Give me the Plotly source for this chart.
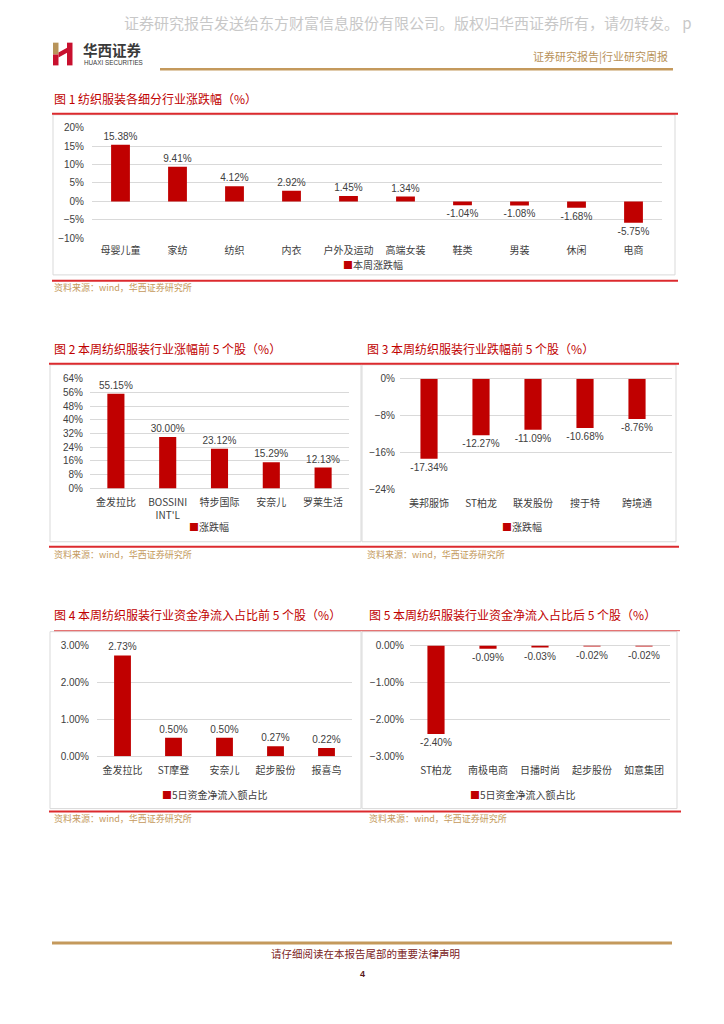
import plotly.graph_objects as go

W, H = 724, 1024
OFF = 8  # page body margin offset compensation
RED = "#c00000"
LINE_RED = "#dc2a2e"
GOLD = "#c4995c"
GRID = "#d9d9d9"
TXT = "#404040"
CJK = "Noto Sans CJK SC"
NUM = "Liberation Sans, Noto Sans CJK SC"

# ---------------- data ----------------
cat1 = ["母婴儿童", "家纺", "纺织", "内衣", "户外及运动", "高端女装", "鞋类", "男装", "休闲", "电商"]
val1 = [15.38, 9.41, 4.12, 2.92, 1.45, 1.34, -1.04, -1.08, -1.68, -5.75]
cat2 = ["金发拉比", "BOSSINI<br>INT'L", "特步国际", "安奈儿", "罗莱生活"]
val2 = [55.15, 30.00, 23.12, 15.29, 12.13]
cat3 = ["美邦服饰", "ST柏龙", "联发股份", "搜于特", "跨境通"]
val3 = [-17.34, -12.27, -11.09, -10.68, -8.76]
cat4 = ["金发拉比", "ST摩登", "安奈儿", "起步股份", "报喜鸟"]
val4 = [2.73, 0.50, 0.50, 0.27, 0.22]
cat5 = ["ST柏龙", "南极电商", "日播时尚", "起步股份", "如意集团"]
val5 = [-2.40, -0.09, -0.03, -0.02, -0.02]

titles = ["图 1 纺织服装各细分行业涨跌幅（%）",
          "图 2 本周纺织服装行业涨幅前 5 个股（%）",
          "图 3 本周纺织服装行业跌幅前 5 个股（%）",
          "图 4 本周纺织服装行业资金净流入占比前 5 个股（%）",
          "图 5 本周纺织服装行业资金净流入占比后 5 个股（%）"]
legend_names = ["本周涨跌幅", "涨跌幅", "涨跌幅", "5日资金净流入额占比", "5日资金净流入额占比"]
source = "资料来源：wind，华西证券研究所"
watermark = "证券研究报告发送给东方财富信息股份有限公司。版权归华西证券所有，请勿转发。 p"
header_right = "证券研究报告|行业研究周报"
footer_text = "请仔细阅读在本报告尾部的重要法律声明"
page_no = "4"


def X(px):
    return (px - OFF) / W


def Y(py):
    return 1 - (py - OFF) / H


charts = [
    dict(c=cat1, v=val1, x=(92, 662), y=(123, 235), r=[-10, 20], dt=5, tf="d", so=7),
    dict(c=cat2, v=val2, x=(90, 349), y=(377, 488), r=[0, 64], dt=8, tf="d", so=6),
    dict(c=cat3, v=val3, x=(400, 672), y=(377, 489), r=[-24, 0], dt=8, tf="d", so=4,
         xr=[-0.558, 4.673]),
    dict(c=cat4, v=val4, x=(97, 352), y=(647, 759), r=[0, 3], dt=1, tf=".2f", so=7),
    dict(c=cat5, v=val5, x=(410, 670), y=(647, 759), r=[-3, 0], dt=1, tf=".2f", so=5),
]
xstand = [5, 7, 7, 7, 7]

fig = go.Figure()
layout = dict(width=W, height=H, margin=dict(l=0, r=0, t=0, b=0),
              paper_bgcolor="white", plot_bgcolor="white", showlegend=False,
              font=dict(family=CJK, color=TXT, size=10))

for i, ch in enumerate(charts, start=1):
    sfx = "" if i == 1 else str(i)
    fig.add_trace(go.Bar(
        x=ch["c"], y=ch["v"], xaxis="x" + sfx, yaxis="y" + sfx,
        marker=dict(color=RED, line=dict(width=0)), width=0.33,
        texttemplate="%{y:.2f}%", textposition="outside", cliponaxis=False,
        constraintext="none",
        textfont=dict(family=NUM, size=10, color=TXT),
        name=legend_names[i - 1], hoverinfo="x+y"))
    xa = dict(domain=[X(ch["x"][0]), X(ch["x"][1])], anchor="y" + sfx,
              showgrid=False, zeroline=False, showline=False, ticks="",
              tickfont=dict(family=CJK, size=10, color=TXT),
              ticklabelstandoff=xstand[i - 1], fixedrange=True, type="category")
    if "xr" in ch:
        xa["range"] = ch["xr"]
    ya = dict(domain=[Y(ch["y"][1]), Y(ch["y"][0])], anchor="x" + sfx,
              range=ch["r"], dtick=ch["dt"], tick0=0, showgrid=True, gridcolor=GRID,
              gridwidth=1, zeroline=True, zerolinecolor=GRID, zerolinewidth=1,
              showline=False, ticks="", ticksuffix="%", tickformat=ch["tf"],
              tickfont=dict(family=NUM, size=10, color=TXT),
              ticklabelstandoff=ch["so"], fixedrange=True)
    layout["xaxis" + sfx] = xa
    layout["yaxis" + sfx] = ya

shapes = []
annotations = []


def hline(x0, x1, y, color, w):
    shapes.append(dict(type="line", xref="paper", yref="paper", x0=X(x0), x1=X(x1),
                       y0=Y(y), y1=Y(y), line=dict(color=color, width=w)))


def box(x0, y0, x1, y1):
    shapes.append(dict(type="rect", xref="paper", yref="paper", x0=X(x0), x1=X(x1),
                       y0=Y(y1), y1=Y(y0), line=dict(color=GRID, width=1),
                       fillcolor="rgba(0,0,0,0)", layer="below"))


def rect(x0, y0, x1, y1, color):
    shapes.append(dict(type="rect", xref="paper", yref="paper", x0=X(x0), x1=X(x1),
                       y0=Y(y1), y1=Y(y0), fillcolor=color, line=dict(width=0)))


def text(x, y, s, size, color, anchor="left", family=CJK):
    annotations.append(dict(x=X(x), y=Y(y), xref="paper", yref="paper", text=s,
                            showarrow=False, xanchor=anchor, yanchor="middle",
                            font=dict(family=family, size=size, color=color)))


# ---------------- header ----------------
text(122, 17, watermark, 15, "#c8c8c8")
rect(53, 37, 58.5, 49, "#b8945a")
rect(53, 49, 58.5, 60, "#c8102e")
shapes.append(dict(type="path", xref="paper", yref="paper",
                   path=f"M {X(58.5)} {Y(47)} L {X(67.5)} {Y(42)} L {X(67.5)} {Y(47)} L {X(58.5)} {Y(52)} Z",
                   fillcolor="#c8102e", line=dict(width=0)))
rect(67, 37, 72.5, 60, "#c8102e")
text(81, 44, "<b>华西证券</b>", 14.5, "#3a3a3a")
text(82, 57, "HUAXI SECURITIES", 6.3, "#3a3a3a", family="Liberation Sans")
text(670, 50, header_right, 11, "#b8925a", anchor="right")
hline(160, 673, 64, GOLD, 2.5)

# ---------------- chart frames ----------------
text(52, 94, titles[0], 12, RED)
hline(52, 678, 109, LINE_RED, 2)
box(53, 110, 675, 272)
hline(52, 678, 278, LINE_RED, 2)
text(52, 285, source, 9, GOLD)
text(373, 261, f"<span style='color:{RED}'>■</span>{legend_names[0]}", 10, TXT, anchor="center")

text(52, 346, titles[1], 12, RED)
hline(49, 362, 362, LINE_RED, 2)
box(50, 363, 361, 542)
hline(49, 362, 547, LINE_RED, 2)
text(52, 555, source, 9, GOLD)
text(209, 527, f"<span style='color:{RED}'>■</span>{legend_names[1]}", 10, TXT, anchor="center")

text(365, 346, titles[2], 12, RED)
hline(362, 679, 362, LINE_RED, 2)
box(362, 363, 676, 542)
hline(362, 679, 547, LINE_RED, 2)
text(365, 555, source, 9, GOLD)
text(522, 527, f"<span style='color:{RED}'>■</span>{legend_names[2]}", 10, TXT, anchor="center")

text(52, 616, titles[3], 12, RED)
hline(54, 362, 632, "#e57373", 1.2)
box(50, 633, 361, 812)
hline(49, 362, 815, LINE_RED, 2)
text(52, 822, source, 9, GOLD)
text(215, 798, f"<span style='color:{RED}'>■</span>{legend_names[3]}", 10, TXT, anchor="center")

text(367, 616, titles[4], 12, RED)
hline(362, 680, 632, "#e57373", 1.2)
box(362, 633, 677, 812)
hline(362, 681, 815, LINE_RED, 2)
text(367, 822, source, 9, GOLD)
text(523, 798, f"<span style='color:{RED}'>■</span>{legend_names[4]}", 10, TXT, anchor="center")

# ---------------- footer ----------------
hline(52, 672, 948, GOLD, 3)
text(365, 959, footer_text, 10.5, "#7a2222", anchor="center")
text(362, 979, "<b>" + page_no + "</b>", 9, "#5a1a1a", anchor="center", family="Liberation Sans")

layout["shapes"] = shapes
layout["annotations"] = annotations
fig.update_layout(**layout)
fig.write_html("out.html")
